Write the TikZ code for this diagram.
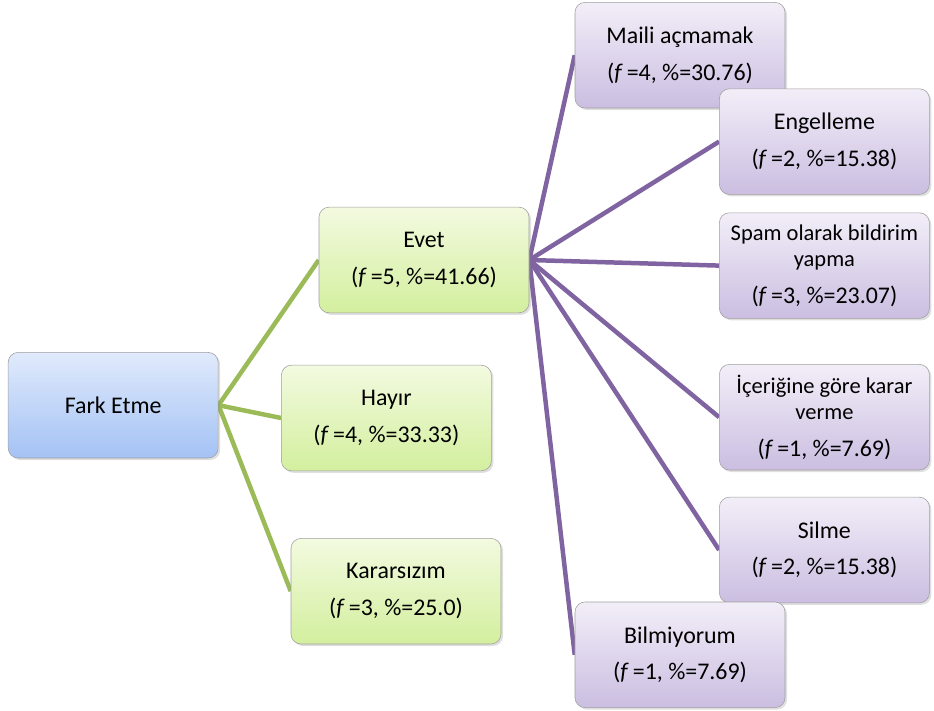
\documentclass[tikz,border=0pt]{standalone}
\usepackage{fontspec}
\setmainfont{Carlito}
\usetikzlibrary{shadows,backgrounds}

\definecolor{gline}{HTML}{9BBB59}
\definecolor{pline}{HTML}{8064A2}
\definecolor{bluetop}{HTML}{E0EAFC}
\definecolor{bluebot}{HTML}{A4C2F4}
\definecolor{greentop}{HTML}{F3FAE0}
\definecolor{greenbot}{HTML}{D3EF9E}
\definecolor{purpletop}{HTML}{F2EEF8}
\definecolor{purplebot}{HTML}{CBBEE1}
\newcommand{\bigtxt}{\fontsize{17}{26}\selectfont}
\newcommand{\smalltxt}{\fontsize{16}{18.5}\selectfont}
\newcommand{\fval}[2]{(\textit{f}\,=#1, \%=#2)}

\tikzstyle{rootbox} = [rectangle, rounded corners=.25cm, draw=gray!75, 
    top color=bluetop, bottom color=bluebot, align=center,
    minimum width=5.25cm, minimum height=2.64cm, font=\bigtxt,
    drop shadow={opacity=.25, shadow xshift=.05cm, shadow yshift=-.05cm}]
\tikzstyle{answer} = [rootbox, top color=greentop, bottom color=greenbot]
\tikzstyle{reason} = [rootbox, top color=purpletop, bottom color=purplebot]
\tikzstyle{reasond} = [reason, font=\smalltxt, inner xsep=1pt]
\tikzstyle{gedge} = [draw=gline, line width=3.2pt]
\tikzstyle{pedge} = [draw=pline, line width=3.2pt]

\begin{document}
\begin{tikzpicture}
	\useasboundingbox (0,0) rectangle (23.35,-17.75);
	\node [rootbox] (fark) at (2.83,-10.13) {Fark Etme};
	%
	\node [answer] (evet) at (10.6,-6.5) {Evet\\\fval{5}{41.66}};
	\node [answer] (hayir) at (9.66,-10.45) {Hayır\\\fval{4}{33.33}};
	\node [answer] (kararsiz) at (9.9,-14.78) {Kararsızım\\\fval{3}{25.0}};
	%
	\node [reason] (maili) at (17,-1.38) {Maili açmamak\\\fval{4}{30.76}};
	\node [reason] (engel) at (20.61,-3.54) {Engelleme\\\fval{2}{15.38}};
	\node [reasond] (spam) at (20.61,-6.64) {Spam olarak bildirim\\yapma\\[8pt]{\bigtxt\fval{3}{23.07}}};
	\node [reasond] (icerik) at (20.61,-10.43) {İçeriğine göre karar\\verme\\[8pt]{\bigtxt\fval{1}{7.69}}};
	\node [reason] (silme) at (20.61,-13.75) {Silme\\\fval{2}{15.38}};
	\node [reason] (bilmi) at (17,-16.37) {Bilmiyorum\\\fval{1}{7.69}};
	%
	\begin{pgfonlayer}{background}
	\draw [gedge] (fark.east) -- (evet.west);
	\draw [gedge] (fark.east) -- (hayir.west);
	\draw [gedge] (fark.east) -- (kararsiz.west);
	%
	\draw [pedge] (evet.east) -- (maili.west);
	\draw [pedge] (evet.east) -- (engel.west);
	\draw [pedge] (evet.east) -- (spam.west);
	\draw [pedge] (evet.east) -- (icerik.west);
	\draw [pedge] (evet.east) -- (silme.west);
	\draw [pedge] (evet.east) -- (bilmi.west);
	\end{pgfonlayer}
\end{tikzpicture}
\end{document}
